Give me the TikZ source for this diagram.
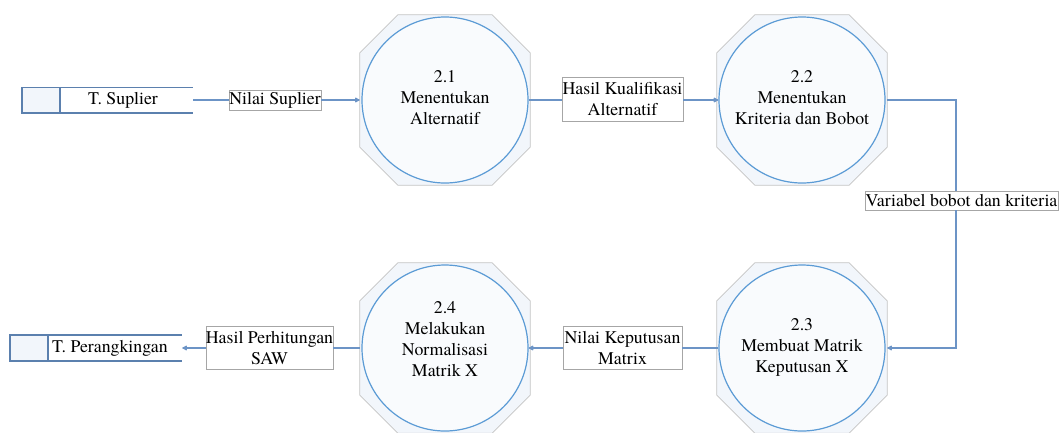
\documentclass[tikz,border=0pt]{standalone}
\usepackage{fontspec}
\setmainfont{TeX Gyre Termes}
\usetikzlibrary{arrows.meta,calc}
\definecolor{flowc}{HTML}{6C94C6}
\definecolor{circc}{HTML}{5B9BD5}
\definecolor{dsc}{HTML}{5B80AE}
\definecolor{octc}{HTML}{C4C4C4}
\definecolor{octfill}{HTML}{F2F6FB}
\newcommand\octdraw[1]{\draw[octc, fill=octfill, line width=0.8pt]
  ($(#1.north west)+(38,0)$) -- ($(#1.north east)+(-38,0)$) -- ($(#1.north east)+(0,38)$) --
  ($(#1.south east)+(0,-38)$) -- ($(#1.south east)+(-38,0)$) -- ($(#1.south west)+(38,0)$) --
  ($(#1.south west)+(0,-38)$) -- ($(#1.north west)+(0,38)$) -- cycle;}
\newcommand\dsdraw[1]{%
  \fill[octfill] (#1.north west) rectangle ($(#1.south west)+(38,0)$);
  \draw[dsc, line width=1.6pt] (#1.north west) rectangle ($(#1.south west)+(38,0)$);
  \draw[dsc, line width=1.6pt] (#1.north west) -- (#1.north east);
  \draw[dsc, line width=1.6pt] (#1.south west) -- (#1.south east);}
\begin{document}
\begin{tikzpicture}[x=1pt,y=-1pt, font=\fontsize{17.8}{21}\selectfont,
 flow/.style={draw=flowc, line width=1.6pt},
 arr/.style={flow,-{Latex[round,length=6pt,width=6pt]}},
 lbl/.style={draw=black!35, line width=0.6pt, fill=white, inner sep=0pt, align=center},
 proc/.style={circle, draw=circc, line width=1.2pt, minimum size=166pt, inner sep=0pt, fill=white!55!octfill},
 oct/.style={rectangle, minimum size=170pt, inner sep=0pt},
 dsframe/.style={rectangle, inner sep=0pt},
 ptext/.style={align=center, inner sep=0pt},
]
\useasboundingbox (0,0) rectangle (1063,432);

% octagon frames
\node[oct] (o1) at (445,100) {};
\node[oct] (o2) at (802,100) {};
\node[oct] (o3) at (802,348) {};
\node[oct] (o4) at (445,348) {};
\octdraw{o1}\octdraw{o2}\octdraw{o3}\octdraw{o4}

% processes
\node[proc] (p1) at (o1) {};
\node[proc] (p2) at (o2) {};
\node[proc] (p3) at (o3) {};
\node[proc] (p4) at (o4) {};
\node[ptext] (t1) at (445,98) {2.1\\Menentukan\\Alternatif};
\node[ptext] (t2) at (802,98) {2.2\\Menentukan\\Kriteria dan Bobot};
\node[ptext] (t3) at (802,347) {2.3\\Membuat Matrik\\Keputusan X};
\node[ptext] (t4) at (445,339) {2.4\\Melakukan\\Normalisasi\\Matrik X};

% data stores
\node[dsframe, minimum width=171pt, minimum height=25pt] (ds1) at (107.5,100) {};
\node[dsframe, minimum width=172pt, minimum height=26pt] (ds2) at (96,348) {};
\dsdraw{ds1}\dsdraw{ds2}
\node[inner sep=0pt] (dt1) at (123,100) {T. Suplier};
\node[inner sep=0pt, anchor=west] (dt2) at (52,348) {T. Perangkingan};

% labels
\node[lbl, minimum width=92pt, minimum height=20pt] (l1) at (275,100) {Nilai Suplier};
\node[lbl, minimum width=121pt, minimum height=44pt] (l2) at (622.5,99) {Hasil Kualifikasi\\Alternatif};
\node[lbl, minimum width=193pt, minimum height=19pt] (l3) at (961.5,200.5) {Variabel bobot dan kriteria};
\node[lbl, minimum width=119pt, minimum height=43pt] (l4) at (622.5,348) {Nilai Keputusan\\Matrix};
\node[lbl, minimum width=127pt, minimum height=43pt] (l5) at (269.5,348) {Hasil Perhitungan\\SAW};

\coordinate (k1) at (956,100);
\coordinate (k2) at (956,348);

% connectors
\draw[flow] (ds1.east) -- (l1.west);
\draw[arr] (l1.east) -- (o1.west);
\draw[flow] (p1.east) -- (p1.east -| l2.west);
\draw[arr] (p2.west -| l2.east) -- (p2.west);
\draw[flow] (o2.east |- k1) -- (k1) -- (k1 |- l3.north);
\draw[arr] (k2 |- l3.south) -- (k2) -- (o3.east |- k2);
\draw[flow] (p3.west) -- (l4.east);
\draw[arr] (l4.west) -- (p4.east);
\draw[flow] (o4.west) -- (l5.east);
\draw[arr] (l5.west) -- (ds2.east);
\end{tikzpicture}
\end{document}
